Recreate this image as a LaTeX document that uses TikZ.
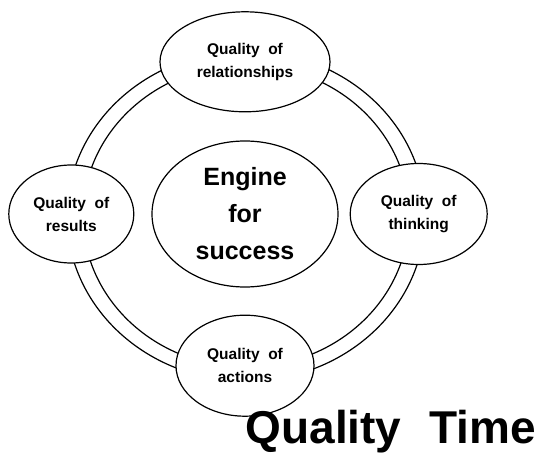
\documentclass[tikz,border=0pt]{standalone}
\usepackage{fontspec}
\setmainfont{Liberation Sans}
\usetikzlibrary{positioning}
\usetikzlibrary{shapes.geometric}

\begin{document}
\begin{tikzpicture}[
  x=1pt,y=-1pt,
  line width=1.2pt,
  mynode/.style={draw,ellipse,fill=white,inner sep=0pt,align=center,font=\bfseries\fontsize{15.5}{23}\selectfont},
  ring/.style={draw,fill=white}
]
\useasboundingbox (0,0) rectangle (544,457);

\coordinate (c) at (246,216);
\draw[ring] (c) ellipse [x radius=179pt, y radius=165pt];
\draw[ring] (c) ellipse [x radius=163pt, y radius=151pt];

\node[mynode,minimum width=186pt,minimum height=146pt,font=\bfseries\fontsize{25}{37}\selectfont] (engine) at (245,214) {Engine\\for\\success};
\node[mynode,minimum width=170pt,minimum height=100pt,above=28pt of engine] (rel) {Quality~~of\\relationships};
\node[mynode,minimum width=125pt,minimum height=98pt,left=17pt of engine] (res) {Quality~~of\\results};
\node[mynode,minimum width=137pt,minimum height=101pt,right=11pt of engine] (think) {Quality~~of\\thinking};
\node[mynode,minimum width=138pt,minimum height=101pt,below=27pt of engine] (act) {Quality~~of\\actions};

\node[anchor=base west,inner sep=0pt,font=\bfseries\fontsize{46}{52}\selectfont] (title) at (245,443) {Quality\hspace{28pt}Time}; %

\end{tikzpicture}
\end{document}
